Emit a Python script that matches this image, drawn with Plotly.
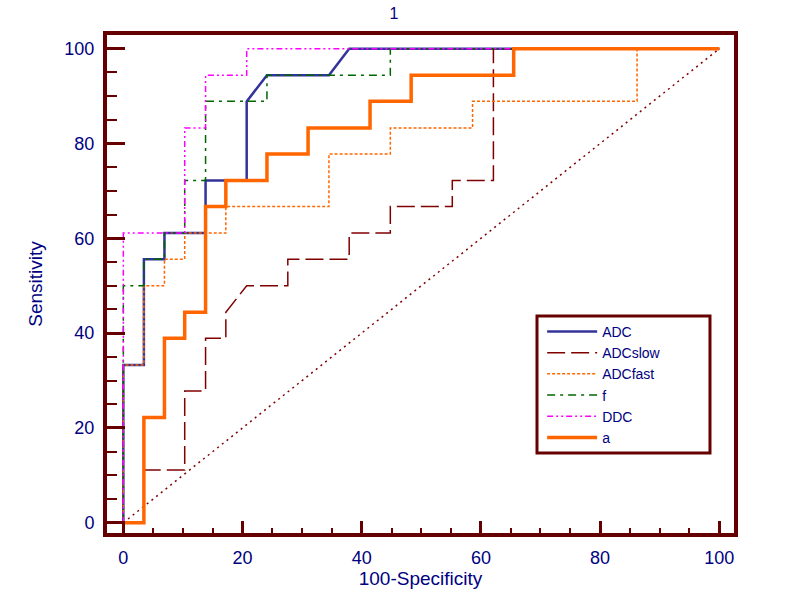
import plotly.graph_objects as go

# ROC curve vertices (100-Specificity, Sensitivity)
adc_x = [0, 0, 3.45, 3.45, 6.9, 6.9, 13.8, 13.8, 20.7, 20.7, 24.1, 34.5, 37.9, 100]
adc_y = [0, 33.3, 33.3, 55.6, 55.6, 61.1, 61.1, 72.2, 72.2, 88.9, 94.4, 94.4, 100, 100]

slow_x = [0, 3.45, 3.45, 10.3, 10.3, 13.8, 13.8, 17.2, 17.2, 20.7, 27.6, 27.6, 37.9, 37.9,
          44.8, 44.8, 55.2, 55.2, 62.1, 62.1, 100]
slow_y = [0, 0, 11.1, 11.1, 27.8, 27.8, 38.9, 38.9, 44.4, 50, 50, 55.6, 55.6, 61.1,
          61.1, 66.7, 66.7, 72.2, 72.2, 100, 100]

fast_x = [0, 0, 3.45, 3.45, 6.9, 6.9, 10.3, 10.3, 17.2, 17.2, 34.5, 34.5, 44.8, 44.8,
          58.6, 58.6, 86.2, 86.2, 100]
fast_y = [0, 33.3, 33.3, 50, 50, 55.6, 55.6, 61.1, 61.1, 66.7, 66.7, 77.8, 77.8, 83.3,
          83.3, 88.9, 88.9, 100, 100]

f_x = [0, 0, 3.45, 3.45, 6.9, 6.9, 10.3, 10.3, 13.8, 13.8, 24.1, 24.1, 44.8, 44.8, 100]
f_y = [0, 50, 50, 55.6, 55.6, 61.1, 61.1, 72.2, 72.2, 88.9, 88.9, 94.4, 94.4, 100, 100]

ddc_x = [0, 0, 10.3, 10.3, 13.8, 13.8, 20.7, 20.7, 100]
ddc_y = [0, 61.1, 61.1, 83.3, 83.3, 94.4, 94.4, 100, 100]

a_x = [0, 3.45, 3.45, 6.9, 6.9, 10.3, 10.3, 13.8, 13.8, 17.2, 17.2, 24.1, 24.1, 31.0,
       31.0, 41.4, 41.4, 48.3, 48.3, 65.5, 65.5, 100]
a_y = [0, 0, 22.2, 22.2, 38.9, 38.9, 44.4, 44.4, 66.7, 66.7, 72.2, 72.2, 77.8, 77.8,
       83.3, 83.3, 88.9, 88.9, 94.4, 94.4, 100, 100]

diag_x = [0, 100]
diag_y = [0, 100]

tick_vals = [0, 20, 40, 60, 80, 100]
tick_text = ["0", "20", "40", "60", "80", "100"]

FRAME = "#660000"
NAVY = "#000080"
FONT = "Liberation Sans, Arial"

fig = go.Figure()
fig.add_trace(go.Scatter(x=diag_x, y=diag_y, mode="lines", showlegend=False,
                         line=dict(color="#800000", width=1.5, dash="2px,4px")))
fig.add_trace(go.Scatter(x=adc_x, y=adc_y, mode="lines", name="ADC",
                         line=dict(color="#333399", width=2.5)))
fig.add_trace(go.Scatter(x=slow_x, y=slow_y, mode="lines", name="ADCslow",
                         line=dict(color="#800000", width=1.5, dash="18px,6px")))
fig.add_trace(go.Scatter(x=fast_x, y=fast_y, mode="lines", name="ADCfast",
                         line=dict(color="#FF6600", width=1.5, dash="3px,2px")))
fig.add_trace(go.Scatter(x=f_x, y=f_y, mode="lines", name="f",
                         line=dict(color="#006600", width=1.5, dash="8px,5px,3px,5px")))
fig.add_trace(go.Scatter(x=ddc_x, y=ddc_y, mode="lines", name="DDC",
                         line=dict(color="#FF00FF", width=1.5, dash="6px,3px,2px,3px,2px,3px")))
fig.add_trace(go.Scatter(x=a_x, y=a_y, mode="lines", name="a",
                         line=dict(color="#FF6600", width=3.5)))

axis_common = dict(
    showgrid=False, zeroline=False, showline=True, mirror=True,
    linecolor=FRAME, linewidth=4, automargin=False,
    ticks="inside", tickcolor=FRAME, ticklabelstandoff=5,
    tickvals=tick_vals, ticktext=tick_text,
    tickfont=dict(family=FONT, size=18, color=NAVY),
)

fig.update_layout(
    width=788, height=600,
    paper_bgcolor="white", plot_bgcolor="white",
    margin=dict(l=107, r=54, t=35, b=67),
    title=dict(text="1", x=0.5, xref="container", xanchor="center",
               y=0.978, yref="container", yanchor="middle",
               font=dict(family=FONT, size=16, color=NAVY)),
    xaxis=dict(**axis_common, range=[-2.74, 102.47], ticklen=12, tickwidth=3,
               minor=dict(dtick=5, ticks="inside", ticklen=5, tickwidth=2, tickcolor=FRAME),
               title=dict(text="100-Specificity", standoff=6,
                          font=dict(family=FONT, size=19, color=NAVY))),
    yaxis=dict(**axis_common, range=[-2.17, 102.9], ticklen=18, tickwidth=3,
               minor=dict(dtick=5, ticks="inside", ticklen=10, tickwidth=2, tickcolor=FRAME),
               title=dict(text="Sensitivity", standoff=18,
                          font=dict(family=FONT, size=19, color=NAVY))),
    legend=dict(x=0.694, y=0.436, xanchor="left", yanchor="top",
                bgcolor="rgba(0,0,0,0)", borderwidth=0,
                font=dict(family=FONT, size=14, color=NAVY),
                tracegroupgap=0, itemwidth=50),
    showlegend=True,
    shapes=[dict(type="rect", xref="paper", yref="paper", layer="above",
                 x0=0.6858, x1=0.9617, y0=0.1606, y1=0.4357,
                 line=dict(color=FRAME, width=3), fillcolor="white")],
)

fig.write_html("out.html", config={"displayModeBar": False},
               post_script="document.body.style.margin='0';")
